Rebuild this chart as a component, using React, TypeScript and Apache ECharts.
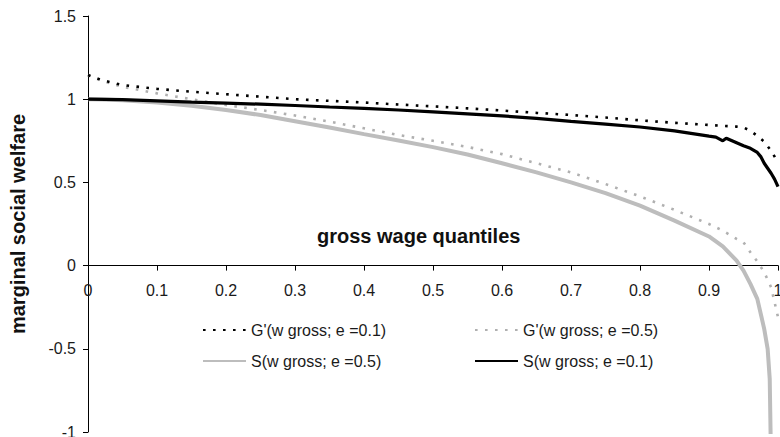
import React, { useEffect, useRef } from "react";
import * as echarts from "echarts";

const seriesNames = [
  "G'(w gross; e =0.1)",
  "G'(w gross; e =0.5)",
  "S(w gross; e =0.5)",
  "S(w gross; e =0.1)",
];

const xTitle = "gross wage quantiles";
const yTitle = "marginal social welfare";

const yMin = -1;
const yMax = 1.5;

// G'(w gross; e=0.1) – black dotted
const gPrime01Q = [0, 0.02, 0.05, 0.1, 0.15, 0.2, 0.25, 0.3, 0.35, 0.4, 0.45, 0.5, 0.55, 0.6, 0.65, 0.7, 0.75, 0.8, 0.85, 0.9, 0.92, 0.94, 0.95, 0.96, 0.97, 0.98, 0.99, 1.0];
const gPrime01V = [1.145, 1.115, 1.085, 1.062, 1.045, 1.03, 1.015, 1.0, 0.99, 0.98, 0.968, 0.957, 0.945, 0.932, 0.918, 0.905, 0.89, 0.873, 0.858, 0.845, 0.84, 0.835, 0.83, 0.81, 0.78, 0.745, 0.69, 0.62];

// G'(w gross; e=0.5) – grey dotted
const gPrime05Q = [0, 0.02, 0.05, 0.1, 0.15, 0.2, 0.25, 0.3, 0.35, 0.4, 0.45, 0.5, 0.55, 0.6, 0.65, 0.7, 0.75, 0.8, 0.85, 0.9, 0.92, 0.94, 0.95, 0.96, 0.97, 0.98, 0.99, 1.0];
const gPrime05V = [1.145, 1.11, 1.075, 1.035, 1.0, 0.965, 0.935, 0.902, 0.865, 0.825, 0.785, 0.75, 0.713, 0.67, 0.615, 0.56, 0.49, 0.416, 0.335, 0.25, 0.21, 0.16, 0.14, 0.08, 0.025, -0.04, -0.13, -0.31];

// S(w gross; e=0.5) – grey solid
const sWelfare05Q = [0, 0.02, 0.05, 0.1, 0.15, 0.2, 0.25, 0.3, 0.35, 0.4, 0.45, 0.5, 0.55, 0.6, 0.65, 0.7, 0.75, 0.8, 0.85, 0.9, 0.92, 0.94, 0.95, 0.96, 0.97, 0.98, 0.985, 0.988, 0.99];
const sWelfare05V = [1.0, 0.998, 0.993, 0.98, 0.96, 0.935, 0.905, 0.868, 0.83, 0.79, 0.752, 0.712, 0.668, 0.615, 0.56, 0.5, 0.435, 0.36, 0.27, 0.175, 0.115, 0.03, -0.03, -0.11, -0.2, -0.38, -0.5, -0.68, -1.2];

// S(w gross; e=0.1) – black solid
const sWelfare01Q = [0, 0.05, 0.1, 0.15, 0.2, 0.25, 0.3, 0.35, 0.4, 0.45, 0.5, 0.55, 0.6, 0.65, 0.7, 0.75, 0.8, 0.85, 0.9, 0.91, 0.92, 0.925, 0.94, 0.95, 0.96, 0.97, 0.975, 0.98, 0.985, 0.99, 0.995, 1.0];
const sWelfare01V = [1.0, 0.997, 0.99, 0.983, 0.977, 0.97, 0.962, 0.953, 0.945, 0.935, 0.924, 0.912, 0.9, 0.885, 0.867, 0.85, 0.833, 0.81, 0.778, 0.772, 0.75, 0.765, 0.738, 0.72, 0.705, 0.68, 0.655, 0.615, 0.585, 0.555, 0.52, 0.475];

const zip = (q: number[], v: number[]) => q.map((x, i) => [x, v[i]]);

const FONT = "Liberation Sans, Arial, sans-serif";
const W = 780;
const H = 437;
const GRID = { left: 88, right: 2, top: 16, bottom: 5 };

export default function App() {
  const ref = useRef<HTMLDivElement>(null);
  useEffect(() => {
    if (!ref.current) return;
    const chart = echarts.init(ref.current, undefined, { renderer: "svg" });
    const gridH = H - GRID.top - GRID.bottom;
    // place the x axis where y = 0 (measured up from the grid bottom)
    const zeroOffset = -((0 - yMin) / (yMax - yMin)) * gridH;
    const legendCommon = {
      itemWidth: 43,
      itemHeight: 14,
      itemGap: 0,
      padding: 0,
      selectedMode: false,
      itemStyle: { opacity: 0, color: "transparent", borderWidth: 0 },
      textStyle: { fontSize: 16, color: "#1a1a1a", fontFamily: FONT },
    };
    chart.setOption({
      animation: false,
      backgroundColor: "#ffffff",
      grid: { ...GRID, containLabel: false, outerBoundsMode: "none" },
      xAxis: {
        type: "value",
        min: 0,
        max: 1,
        interval: 0.1,
        position: "bottom",
        offset: zeroOffset,
        axisLine: { onZero: false, lineStyle: { color: "#000", width: 1 } },
        axisTick: { show: true, length: 5, lineStyle: { color: "#000" } },
        axisLabel: { margin: 17, fontSize: 16, color: "#1a1a1a", fontFamily: FONT, showMaxLabel: true, showMinLabel: true },
        splitLine: { show: false },
      },
      yAxis: {
        type: "value",
        min: yMin,
        max: yMax,
        interval: 0.5,
        name: yTitle,
        nameLocation: "middle",
        nameGap: 60,
        nameTextStyle: { fontSize: 20, fontWeight: "bold", color: "#111", fontFamily: FONT },
        axisLine: { show: true, onZero: false, lineStyle: { color: "#000", width: 1 } },
        axisTick: { show: true, length: 5, lineStyle: { color: "#000" } },
        axisLabel: { margin: 12, fontSize: 16, color: "#1a1a1a", fontFamily: FONT },
        splitLine: { show: false },
      },
      legend: [
        { ...legendCommon, data: [seriesNames[0]], left: 202, top: 322 },
        { ...legendCommon, data: [seriesNames[1]], left: 474, top: 322 },
        { ...legendCommon, data: [seriesNames[2]], left: 202, top: 353 },
        { ...legendCommon, data: [seriesNames[3]], left: 474, top: 353 },
      ],
      graphic: [
        {
          type: "text",
          left: 317,
          top: 226,
          style: { text: xTitle, font: `bold 20px ${FONT}`, fill: "#111" },
        },
      ],
      series: [
        {
          name: seriesNames[2],
          type: "line",
          data: zip(sWelfare05Q, sWelfare05V),
          symbol: "none",
          clip: true,
          lineStyle: { color: "#bdbdbd", width: 4 },
          itemStyle: { color: "#bdbdbd" },
          z: 2,
        },
        {
          name: seriesNames[1],
          type: "line",
          data: zip(gPrime05Q, gPrime05V),
          symbol: "none",
          clip: true,
          lineStyle: { color: "#b0b0b0", width: 2.6, type: [2.6, 7.4] },
          itemStyle: { color: "#b0b0b0" },
          z: 3,
        },
        {
          name: seriesNames[3],
          type: "line",
          data: zip(sWelfare01Q, sWelfare01V),
          symbol: "none",
          clip: true,
          lineStyle: { color: "#000", width: 3.2 },
          itemStyle: { color: "#000" },
          z: 4,
        },
        {
          name: seriesNames[0],
          type: "line",
          data: zip(gPrime01Q, gPrime01V),
          symbol: "none",
          clip: true,
          lineStyle: { color: "#000", width: 2.6, type: [2.6, 7.4] },
          itemStyle: { color: "#000" },
          z: 5,
        },
      ],
    });
    return () => chart.dispose();
  }, []);
  return (
    <div
      ref={ref}
      style={{ position: "absolute", left: 0, top: 0, width: W, height: H }}
    />
  );
}
